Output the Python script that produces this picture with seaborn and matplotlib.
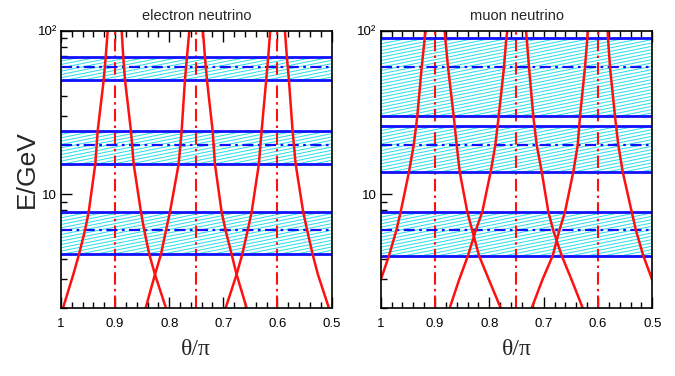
import numpy as np
import pandas as pd
import matplotlib
matplotlib.use("Agg")
import matplotlib.pyplot as plt
import matplotlib.hatch as mhatch
from matplotlib.path import Path
from matplotlib.ticker import FixedLocator, MultipleLocator, NullFormatter, FixedFormatter, LogLocator
import seaborn as sns

# ---------------- data ----------------
panel_titles = ["electron neutrino", "muon neutrino"]

# resonance angles (theta/pi) -> vertical dash-dot lines
theta_res = [0.9, 0.75, 0.6]

# energy bands (low, centre, high) in GeV
bands_e = [(50.0, 60.0, 69.0), (15.3, 20.0, 24.4), (4.27, 6.0, 7.76)]
bands_mu = [(30.0, 60.0, 90.2), (13.7, 20.0, 26.3), (4.19, 6.0, 7.78)]

# red curves, electron neutrino panel
E_e = [100, 69, 50, 24.4, 15.3, 7.76, 5.98, 4.27, 3.21, 2.0]
th_e_A_left = [0.9137, 0.9174, 0.9211, 0.9322, 0.9366, 0.9488, 0.9557, 0.9667, 0.9773, 0.9963]
th_e_A_right = [0.8878, 0.8849, 0.8817, 0.8707, 0.8657, 0.8522, 0.8461, 0.8368, 0.8263, 0.8060]
th_e_B_left = [0.7629, 0.7672, 0.7709, 0.7770, 0.7825, 0.7986, 0.8060, 0.8152, 0.8263, 0.8435]
th_e_B_right = [0.7376, 0.7339, 0.7302, 0.7197, 0.7155, 0.7031, 0.6957, 0.6846, 0.6754, 0.6569]
th_e_C_left = [0.6133, 0.6170, 0.6207, 0.6292, 0.6342, 0.6476, 0.6550, 0.6650, 0.6754, 0.6957]
th_e_C_right = [0.5861, 0.5824, 0.5787, 0.5719, 0.5663, 0.5523, 0.5449, 0.5349, 0.5251, 0.5048]

# red curves, muon neutrino panel
E_mu = [100, 90.2, 60.1, 30.0, 20.0, 13.7, 7.78, 5.97, 4.19, 2.97, 2.0]
th_mu_A_left = [0.9172, 0.9190, 0.9245, 0.9326, 0.9392, 0.9479, 0.9632, 0.9713, 0.9847, 1.0]
th_mu_A_right = [0.8822, 0.8811, 0.8761, 0.8656, 0.8601, 0.8546, 0.8406, 0.8314, 0.8190, 0.8006, 0.7791]
th_mu_B_left = [0.7669, 0.7688, 0.7730, 0.7828, 0.7890, 0.7975, 0.8130, 0.8251, 0.8393, 0.8558, 0.8730]
th_mu_B_right = [0.7325, 0.7312, 0.7270, 0.7191, 0.7128, 0.7036, 0.6914, 0.6822, 0.6668, 0.6484, 0.6281]
th_mu_C_left = [0.6189, 0.6196, 0.6239, 0.6331, 0.6373, 0.6454, 0.6607, 0.6712, 0.6833, 0.7025, 0.7220]
th_mu_C_right = [0.5821, 0.5815, 0.5779, 0.5687, 0.5626, 0.5545, 0.5379, 0.5300, 0.5166, 0.5000]

x_ticks = [1.0, 0.9, 0.8, 0.7, 0.6, 0.5]
x_tick_labels = ["1", "0.9", "0.8", "0.7", "0.6", "0.5"]
y_ticks = [10, 100]
y_tick_labels = ["10", "10\u00b2"]


def make_df(curves):
    rows = []
    for name, th, E in curves:
        n = len(th)
        for t, e in zip(th, E[:n]):
            rows.append({"curve": name, "theta": t, "E": e})
    return pd.DataFrame(rows)


df_e = make_df([
    ("A_left", th_e_A_left, E_e), ("A_right", th_e_A_right, E_e),
    ("B_left", th_e_B_left, E_e), ("B_right", th_e_B_right, E_e),
    ("C_left", th_e_C_left, E_e), ("C_right", th_e_C_right, E_e),
])
df_mu = make_df([
    ("A_left", th_mu_A_left, E_mu), ("A_right", th_mu_A_right, E_mu),
    ("B_left", th_mu_B_left, E_mu), ("B_right", th_mu_B_right, E_mu),
    ("C_left", th_mu_C_left, E_mu), ("C_right", th_mu_C_right, E_mu),
])


# ---------------- shallow diagonal hatch (replaces the '-' hatch) ----------------
class ShallowHatch(mhatch.HatchPatternBase):
    N = 30      # lines per hatch cell
    RISE = 6    # rise across one cell, in units of 1/N

    def __init__(self, hatch, density):
        self.on = hatch.count('-') > 0
        self.num_lines = (self.N + self.RISE + 1) if self.on else 0
        self.num_vertices = self.num_lines * 2

    def set_vertices_and_codes(self, vertices, codes):
        ks = np.arange(-self.RISE, self.N + 1)
        y0 = ks / self.N
        vertices[0::2, 0] = 0.0
        vertices[0::2, 1] = y0
        vertices[1::2, 0] = 1.0
        vertices[1::2, 1] = y0 + self.RISE / self.N
        codes[0::2] = Path.MOVETO
        codes[1::2] = Path.LINETO


mhatch._hatch_types = [ShallowHatch if t is mhatch.HorizontalHatch else t
                       for t in mhatch._hatch_types]

# ---------------- style ----------------
sns.set_style("ticks")
plt.rcParams["font.family"] = ["Liberation Sans", "DejaVu Sans"]
plt.rcParams["hatch.linewidth"] = 0.7

BLUE = "#1010ff"
RED = "#ff1010"
CYAN = "#28dde8"

fig = plt.figure(figsize=(6.75, 3.76), dpi=100)
W, H = 675.0, 376.0
ax1 = fig.add_axes([61 / W, (H - 308) / H, 270.5 / W, 277 / H])
ax2 = fig.add_axes([380.7 / W, (H - 308) / H, 271.6 / W, 277 / H])

for ax, df, bands, title in [(ax1, df_e, bands_e, panel_titles[0]),
                              (ax2, df_mu, bands_mu, panel_titles[1])]:
    ax.set_yscale("log")
    ax.set_xlim(1.0, 0.5)
    ax.set_ylim(2.0, 100.0)

    for lo, mid, hi in bands:
        ax.axhspan(lo, hi, facecolor="white", edgecolor=CYAN, hatch="-",
                   linewidth=0, zorder=1)
        ax.axhline(lo, color=BLUE, lw=2.0, zorder=3)
        ax.axhline(hi, color=BLUE, lw=2.0, zorder=3)
        ax.axhline(mid, color=BLUE, lw=1.6, ls=(0, (5, 2, 1.2, 2)), zorder=3)

    for t in theta_res:
        ax.axvline(t, color=RED, lw=1.5, ls=(0, (6, 2, 1.2, 2)), zorder=2)

    sns.lineplot(data=df, x="theta", y="E", units="curve", estimator=None,
                 sort=False, color=RED, lw=1.8, ax=ax, zorder=4, legend=False)

    ax.xaxis.set_major_locator(FixedLocator(x_ticks))
    ax.xaxis.set_major_formatter(FixedFormatter(x_tick_labels))
    ax.xaxis.set_minor_locator(MultipleLocator(0.02))
    ax.yaxis.set_major_locator(FixedLocator(y_ticks))
    ax.yaxis.set_major_formatter(FixedFormatter(y_tick_labels))
    ax.yaxis.set_minor_locator(LogLocator(base=10, subs=np.arange(2, 10)))
    ax.yaxis.set_minor_formatter(NullFormatter())

    ax.tick_params(which="both", direction="in", top=True, right=False,
                   colors="black", labelsize=9.5, width=1.0)
    ax.tick_params(which="major", length=8)
    ax.tick_params(axis="x", which="major", pad=7)
    ax.tick_params(axis="y", which="major", pad=3)
    ax.tick_params(which="minor", length=4)
    for s in ax.spines.values():
        s.set_linewidth(1.2)
        s.set_color("black")
        s.set_zorder(6)

    ax.set_title(title, fontsize=10.5, pad=8)
    ax.set_xlabel("\u03b8/\u03c0", fontsize=17,
                  family=["Liberation Serif", "DejaVu Serif"], labelpad=7)
    ax.set_ylabel("")

ax1.set_ylabel("E/GeV", fontsize=19, labelpad=-1)

fig.savefig("out.png", dpi=100)
